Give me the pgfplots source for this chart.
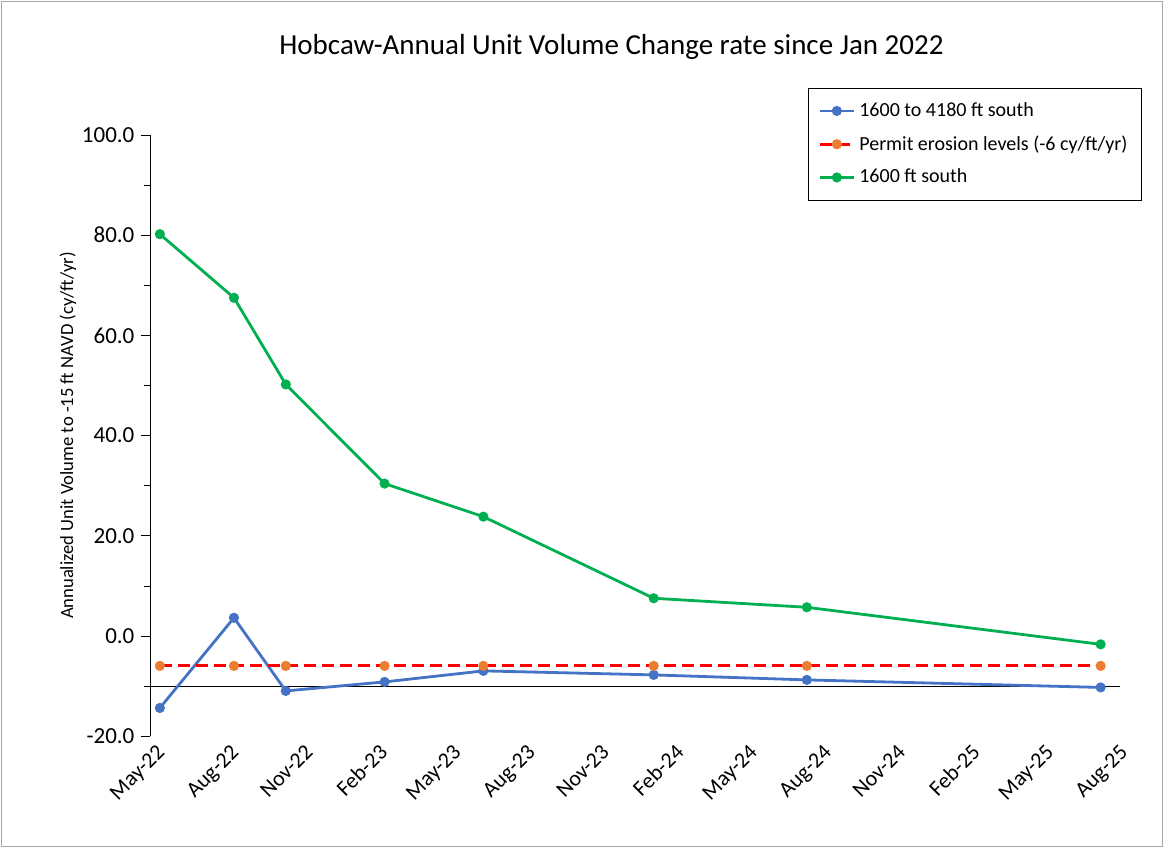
\documentclass[border=0pt]{standalone}
\usepackage{pgfplots}
\pgfplotsset{compat=1.18}
\usepackage{fontspec}
\setmainfont{Carlito}
\begin{document}
\begin{tikzpicture}
\useasboundingbox (-75pt,-55.5pt) rectangle (506.5pt,368pt);
\draw[gray!70] (-74.5pt,-55pt) rectangle (506pt,367.5pt);
\begin{axis}[
 scale only axis, width=481.5pt, height=300.5pt,
 xmin=0, xmax=39, ymin=-20, ymax=100,
 axis x line*=bottom, axis y line*=left,
 x axis line style={draw=none},
 xtick={0,3,...,39},
 xticklabels={May-22,Aug-22,Nov-22,Feb-23,May-23,Aug-23,Nov-23,Feb-24,May-24,Aug-24,Nov-24,Feb-25,May-25,Aug-25},
 xticklabel style={rotate=45,anchor=north east,font=\fontsize{11}{13}\selectfont, xshift=6pt, yshift=2pt},
 x tick style={draw=none},
 ytick={-20,0,...,100},
 yticklabel style={font=\fontsize{11.5}{13}\selectfont},
 yticklabel={\pgfmathprintnumber[fixed,fixed zerofill,precision=1]{\tick}},
 /pgf/number format/assume math mode=true,
 minor y tick num=1,
 ytick style={black}, tick align=outside,
 ylabel={Annualized Unit Volume to -15 ft NAVD (cy/ft/yr)},
 ylabel style={font=\fontsize{9.3}{10}\selectfont, yshift=-4pt},
 title={Hobcaw-Annual Unit Volume Change rate since Jan 2022},
 title style={font=\fontsize{14.5}{16}\selectfont, yshift=28pt, xshift=-10pt},
 clip=false,
 legend style={at={(1.03,1.078)},anchor=north east, draw=black, font=\fontsize{10}{12}\selectfont, row sep=4pt, inner sep=5pt},
 legend cell align=left,
]
\draw[black] (axis cs:0,-10) -- (axis cs:39.3,-10);
\addplot[color={rgb,255:red,68;green,114;blue,196}, line width=1.4pt, mark=*, mark size=1.8pt] coordinates {
(0.4,-14.4) (3.4,3.6) (5.5,-11.0) (9.5,-9.2) (13.5,-7.0) (20.4,-7.8) (26.6,-8.8) (38.5,-10.3)};
\addlegendentry{1600 to 4180 ft south}
\addplot[red, dashed, line width=1.4pt, dash pattern=on 6pt off 3pt, mark=*, mark size=1.8pt, mark options={solid, fill={rgb,255:red,237;green,125;blue,49}, draw={rgb,255:red,237;green,125;blue,49}}] coordinates {
(0.4,-6) (3.4,-6) (5.5,-6) (9.5,-6) (13.5,-6) (20.4,-6) (26.6,-6) (38.5,-6)};
\addlegendentry{Permit erosion levels (-6 cy/ft/yr)}
\addplot[color={rgb,255:red,0;green,176;blue,80}, line width=1.4pt, mark=*, mark size=1.8pt] coordinates {
(0.4,80.2) (3.4,67.5) (5.5,50.2) (9.5,30.4) (13.5,23.8) (20.4,7.5) (26.6,5.7) (38.5,-1.7)};
\addlegendentry{1600 ft south}
\end{axis}
\end{tikzpicture}
\end{document}
